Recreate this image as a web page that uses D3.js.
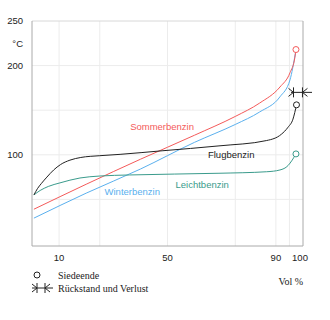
<!DOCTYPE html>
<html>
<head>
<meta charset="utf-8">
<script src="https://cdn.jsdelivr.net/npm/d3@7"></script>
<style>
  body { margin: 0; background: #fff; }
  svg { display: block; font-family: "Liberation Sans", Arial, sans-serif; }
</style>
</head>
<body>
<div class="container"></div>
<script>
// distillation curves: [Vol %, °C]
var sommerbenzin = [[0.7, 39], [20, 67], [40, 95], [60, 122], [75, 143], [84, 158], [91.5, 176], [95.2, 192], [97, 209], [97.4, 218]];
var winterbenzin = [[0.7, 29], [20, 57], [40, 84], [60, 114], [75, 134], [84, 148], [91.5, 165], [95.2, 184], [97.2, 214]];
var flugbenzin = [[0.7, 55], [2, 62], [3.5, 68], [5.5, 75], [8, 83], [10.5, 89], [14, 94], [18, 97], [25, 99], [32.5, 100.5], [48, 104.5], [69, 110], [86.6, 116], [92, 123], [94.5, 131], [96.3, 140], [97.6, 156]];
var leichtbenzin = [[0.7, 55], [3, 60], [6, 64.5], [10.3, 68.5], [17.7, 74], [25, 76.2], [36, 77.4], [69, 79.3], [86.6, 81], [91.5, 83], [94.5, 88], [96, 94], [97.4, 101]];

var siedeende = [[97.4, 218], [97.6, 156], [97.4, 101]];
var rueckstand = [96.5, 99.8];
var rueckstandTemp = 170;

var yTicks = [250, 200, 100];
var yGrid = [50, 100, 150, 200];
var xTicks = [10, 50, 90, 100];
var xGrid = [10, 25, 50, 75, 90, 95];

var SVG_WIDTH = 330, SVG_HEIGHT = 320;
var PLOT = { left: 32, right: 303, top: 21, bottom: 244 };

document.addEventListener('DOMContentLoaded', function () {
    var svg = d3.select(".container")
        .append("svg")
        .attr("width", SVG_WIDTH)
        .attr("height", SVG_HEIGHT);

    var x = d3.scaleLinear().domain([0, 100]).range([PLOT.left, PLOT.right]);
    var y = d3.scaleLinear().domain([0, 250]).range([PLOT.bottom, PLOT.top]);

    // grid
    svg.append("g")
        .selectAll("line")
        .data(xGrid)
        .enter()
        .append("line")
        .attr("x1", d => x(d)).attr("x2", d => x(d))
        .attr("y1", PLOT.top).attr("y2", PLOT.bottom + 2)
        .attr("stroke", "#ececec");

    svg.append("g")
        .selectAll("line")
        .data(yGrid)
        .enter()
        .append("line")
        .attr("x1", PLOT.left).attr("x2", PLOT.right)
        .attr("y1", d => y(d)).attr("y2", d => y(d))
        .attr("stroke", "#ececec");

    // frame
    svg.append("line")
        .attr("x1", PLOT.left).attr("x2", PLOT.right)
        .attr("y1", PLOT.top).attr("y2", PLOT.top)
        .attr("stroke", "#d8d8d8");
    svg.append("path")
        .attr("d", `M${PLOT.left},${PLOT.top}V${PLOT.bottom + 2}H${PLOT.right}V${PLOT.top}`)
        .attr("fill", "none")
        .attr("stroke", "#aaa");

    // tick labels
    svg.append("g")
        .selectAll("text")
        .data(yTicks)
        .enter()
        .append("text")
        .attr("x", 23)
        .attr("y", d => y(d))
        .attr("dy", "0.35em")
        .attr("text-anchor", "end")
        .style("font-size", "9.5px")
        .attr("fill", "#222")
        .text(d => d);

    svg.append("text")
        .attr("x", 23)
        .attr("y", y(225))
        .attr("dy", "0.35em")
        .attr("text-anchor", "end")
        .style("font-size", "9.5px")
        .attr("fill", "#222")
        .text("°C");

    svg.append("g")
        .selectAll("text")
        .data(xTicks)
        .enter()
        .append("text")
        .attr("x", d => x(d) - (d === 100 ? 3 : 0))
        .attr("y", 258)
        .attr("dy", "0.35em")
        .attr("text-anchor", "middle")
        .style("font-size", "9.5px")
        .attr("fill", "#222")
        .text(d => d);

    // curves
    var line = d3.line()
        .x(d => x(d[0]))
        .y(d => y(d[1]))
        .curve(d3.curveMonotoneX);

    var series = [
        { data: winterbenzin, color: "#5ab0ee" },
        { data: sommerbenzin, color: "#f45a5a" },
        { data: leichtbenzin, color: "#3a9b8c" },
        { data: flugbenzin, color: "#222" }
    ];

    svg.append("g")
        .selectAll("path")
        .data(series)
        .enter()
        .append("path")
        .attr("d", d => line(d.data))
        .attr("fill", "none")
        .attr("stroke", d => d.color)
        .attr("stroke-width", 1);

    // curve labels
    var labels = [
        { text: "Sommerbenzin", v: 48, t: 132, color: "#f45a5a" },
        { text: "Flugbenzin", v: 73.5, t: 100, color: "#222" },
        { text: "Leichtbenzin", v: 62.8, t: 67, color: "#3a9b8c" },
        { text: "Winterbenzin", v: 37, t: 59, color: "#5ab0ee" }
    ];

    svg.append("g")
        .selectAll("text")
        .data(labels)
        .enter()
        .append("text")
        .attr("x", d => x(d.v))
        .attr("y", d => y(d.t))
        .attr("dy", "0.35em")
        .attr("text-anchor", "middle")
        .style("font-size", "9.5px")
        .attr("fill", d => d.color)
        .text(d => d.text);

    // end points (Siedeende)
    var endColors = ["#f45a5a", "#222", "#3a9b8c"];
    svg.append("g")
        .selectAll("circle")
        .data(siedeende)
        .enter()
        .append("circle")
        .attr("cx", d => x(d[0]))
        .attr("cy", d => y(d[1]))
        .attr("r", 3)
        .attr("fill", "#fff")
        .attr("stroke", (d, i) => endColors[i]);

    // residue and loss marker
    function residueMarker(g, x0, x1, cy, lineFrom, lineTo) {
        g.append("line")
            .attr("x1", lineFrom).attr("x2", lineTo)
            .attr("y1", cy).attr("y2", cy)
            .attr("stroke", "#222");
        g.append("path")
            .attr("d", `M${x0},${cy - 5}V${cy + 5}M${x0 - 5},${cy - 4}L${x0},${cy}L${x0 - 5},${cy + 4}` +
                `M${x1},${cy - 5}V${cy + 5}M${x1 + 5},${cy - 4}L${x1},${cy}L${x1 + 5},${cy + 4}`)
            .attr("fill", "none")
            .attr("stroke", "#222");
    }

    residueMarker(svg, x(rueckstand[0]), x(rueckstand[1]), y(rueckstandTemp), 291, 312);

    // legend
    var legend = svg.append("g")
        .style("font-family", "'Liberation Serif', 'Times New Roman', serif")
        .style("font-size", "10px")
        .attr("fill", "#222");

    legend.append("circle")
        .attr("cx", 37).attr("cy", 275).attr("r", 3)
        .attr("fill", "#fff").attr("stroke", "#222");
    legend.append("text")
        .attr("x", 58).attr("y", 275).attr("dy", "0.35em")
        .text("Siedeende");

    residueMarker(legend, 37, 45, 288, 32, 53);
    legend.append("text")
        .attr("x", 58).attr("y", 288).attr("dy", "0.35em")
        .text("Rückstand und Verlust");

    legend.append("text")
        .attr("x", 303).attr("y", 281).attr("dy", "0.35em")
        .attr("text-anchor", "end")
        .text("Vol %");
});
</script>
</body>
</html>
